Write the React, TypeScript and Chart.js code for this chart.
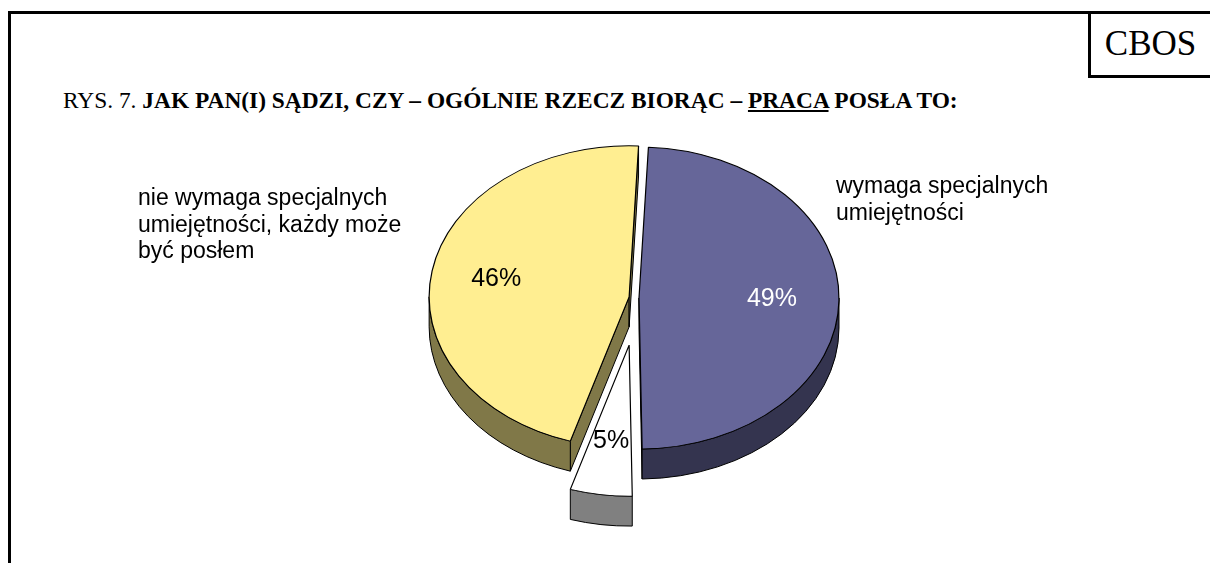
import React, { useEffect, useRef } from "react";
import { Chart, registerables } from "chart.js";

Chart.register(...registerables);

// ---- data ----
const categories = [
  "wymaga specjalnych umiejętności",
  "trudno powiedzieć",
  "nie wymaga specjalnych umiejętności, każdy może być posłem",
];
const values = [49, 5, 46];
const percentLabels = ["49%", "5%", "46%"];
const categoryLines = [
  ["wymaga specjalnych", "umiejętności"],
  [],
  ["nie wymaga specjalnych", "umiejętności, każdy może", "być posłem"],
];

// ---- style ----
const topColors = ["#666699", "#FFFFFF", "#FFEE91"];
const sideColors = ["#34344F", "#808080", "#807848"];
const percentColors = ["#FFFFFF", "#000000", "#000000"];
const EXPLODE = [1, 63, 9];
const LABEL_FRAC = [0.665, 0.64, 0.675];
const K = 0.755; // vertical squash of the pie (tilt)
const DEPTH = 30; // thickness in px
const CAT_POS = [
  { x: 836, y: 187 },
  null,
  { x: 138, y: 199 },
];
const CAT_LINE_H = 26.5;

function explodedCenter(arc: any, i: number) {
  const mid = (arc.startAngle + arc.endAngle) / 2;
  return {
    x: arc.x + Math.cos(mid) * EXPLODE[i],
    y: arc.y + K * Math.sin(mid) * EXPLODE[i],
  };
}

function drawSides(ctx: CanvasRenderingContext2D, arc: any, i: number) {
  const c = explodedCenter(arc, i);
  const r = arc.outerRadius;
  const s = arc.startAngle;
  const e = arc.endAngle;
  ctx.save();
  ctx.fillStyle = sideColors[i];
  ctx.strokeStyle = "#000";
  ctx.lineWidth = 1;
  ctx.lineJoin = "round";
  const quad = (a: number) => {
    const px = c.x + r * Math.cos(a);
    const py = c.y + K * r * Math.sin(a);
    ctx.beginPath();
    ctx.moveTo(c.x, c.y);
    ctx.lineTo(px, py);
    ctx.lineTo(px, py + DEPTH);
    ctx.lineTo(c.x, c.y + DEPTH);
    ctx.closePath();
    ctx.fill();
    ctx.stroke();
  };
  if (Math.cos(s) < 0) quad(s);
  if (Math.cos(e) > 0) quad(e);
  for (let k = -1; k <= 1; k++) {
    const lo = Math.max(s, 2 * Math.PI * k);
    const hi = Math.min(e, Math.PI + 2 * Math.PI * k);
    if (hi > lo) {
      ctx.beginPath();
      ctx.ellipse(c.x, c.y, r, K * r, 0, lo, hi);
      ctx.lineTo(c.x + r * Math.cos(hi), c.y + K * r * Math.sin(hi) + DEPTH);
      ctx.ellipse(c.x, c.y + DEPTH, r, K * r, 0, hi, lo, true);
      ctx.closePath();
      ctx.fill();
      ctx.stroke();
    }
  }
  ctx.restore();
}

const pie3d = {
  id: "pie3d",
  beforeDatasetDraw(chart: any, args: any) {
    const meta = chart.getDatasetMeta(args.index);
    const ctx: CanvasRenderingContext2D = chart.ctx;
    const arcs = meta.data;
    // sides: back ones first, exploded small slice last
    const order = [0, 2, 1];
    order.forEach((i) => drawSides(ctx, arcs[i], i));
    // top faces via the library's own arc elements
    arcs.forEach((arc: any, i: number) => {
      const c = explodedCenter(arc, i);
      ctx.save();
      ctx.translate(c.x, c.y);
      ctx.scale(1, K);
      ctx.translate(-arc.x, -arc.y);
      arc.draw(ctx);
      ctx.restore();
    });
    return false;
  },
  afterDatasetsDraw(chart: any) {
    const meta = chart.getDatasetMeta(0);
    const ctx: CanvasRenderingContext2D = chart.ctx;
    ctx.save();
    meta.data.forEach((arc: any, i: number) => {
      const c = explodedCenter(arc, i);
      const mid = (arc.startAngle + arc.endAngle) / 2;
      const rr = arc.outerRadius * LABEL_FRAC[i];
      ctx.font = '25px "Liberation Sans", Arial, sans-serif';
      ctx.textAlign = "center";
      ctx.textBaseline = "middle";
      ctx.fillStyle = percentColors[i];
      ctx.fillText(percentLabels[i], c.x + rr * Math.cos(mid), c.y + K * rr * Math.sin(mid));
      const pos = CAT_POS[i];
      if (pos) {
        ctx.font = '23px "Liberation Sans", Arial, sans-serif';
        ctx.textAlign = "left";
        ctx.fillStyle = "#000";
        categoryLines[i].forEach((line, j) => {
          ctx.fillText(line, pos.x, pos.y + j * CAT_LINE_H);
        });
      }
    });
    ctx.restore();
  },
};

export default function App() {
  const ref = useRef<HTMLCanvasElement | null>(null);
  useEffect(() => {
    if (!ref.current) return;
    const chart = new Chart(ref.current, {
      type: "pie",
      data: {
        labels: categories,
        datasets: [
          {
            data: values,
            backgroundColor: topColors,
            borderColor: "#000000",
            borderWidth: 1.2,
            offset: 0,
            radius: 200,
            rotation: 2.7,
            clip: false,
          } as any,
        ],
      },
      options: {
        responsive: false,
        animation: false,
        devicePixelRatio: 1,
        layout: { padding: { left: 66, right: 0, top: 33, bottom: 0 } },
        plugins: {
          legend: { display: false },
          tooltip: { enabled: false },
          title: { display: false },
        },
        events: [],
      } as any,
      plugins: [pie3d as any],
    });
    return () => chart.destroy();
  }, []);

  const serif = '"Liberation Serif", "Times New Roman", serif';
  return (
    <div
      style={{
        position: "fixed",
        left: 0,
        top: 0,
        width: 1210,
        height: 563,
        overflow: "hidden",
        background: "#fff",
      }}
    >
      <div
        style={{
          position: "absolute",
          left: 8,
          top: 11,
          width: 1400,
          height: 800,
          border: "3px solid #000",
        }}
      />
      <div
        style={{
          position: "absolute",
          left: 1088,
          top: 11,
          width: 300,
          height: 61,
          border: "3px solid #000",
        }}
      />
      <div
        style={{
          position: "absolute",
          left: 1091,
          top: 26,
          width: 119,
          textAlign: "center",
          fontFamily: serif,
          fontSize: 35,
          lineHeight: "35px",
        }}
      >
        CBOS
      </div>
      <div
        style={{
          position: "absolute",
          left: 63,
          top: 88,
          whiteSpace: "nowrap",
          fontFamily: serif,
          fontSize: 23.4,
          lineHeight: "24px",
        }}
      >
        RYS. 7.{" "}
        <b>
          JAK PAN(I) SĄDZI, CZY – OGÓLNIE RZECZ BIORĄC – <u>PRACA</u> POSŁA TO:
        </b>
      </div>
      <canvas
        ref={ref}
        width={1210}
        height={563}
        style={{ position: "absolute", left: 0, top: 0, width: 1210, height: 563 }}
      />
    </div>
  );
}
